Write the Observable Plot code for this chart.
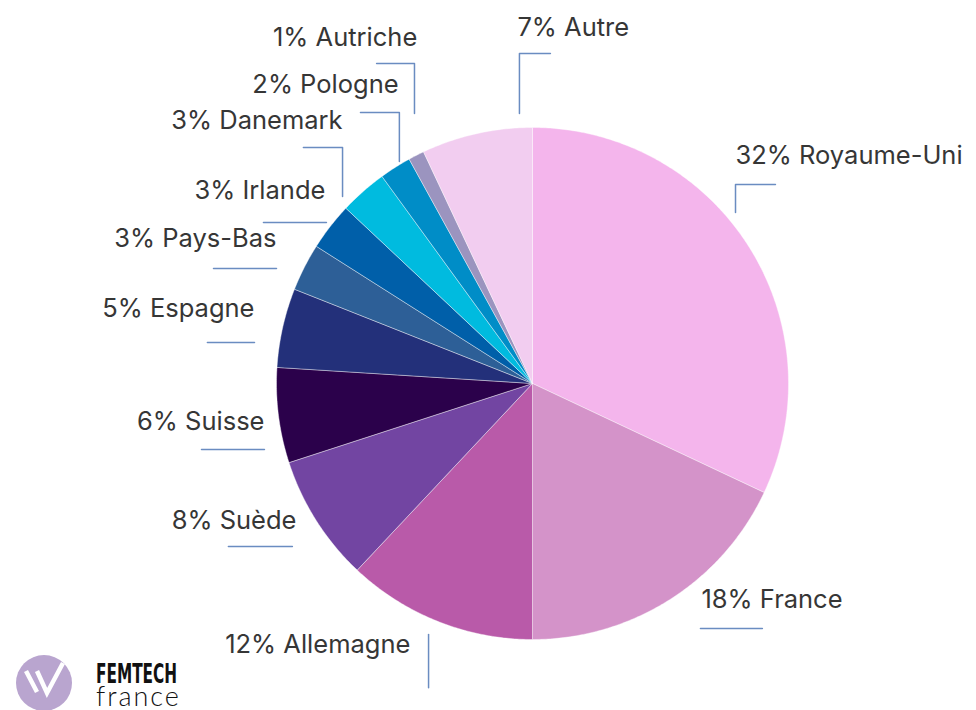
<!DOCTYPE html>
<html>
<head>
<meta charset="utf-8">
<script src="https://cdn.jsdelivr.net/npm/d3@7"></script>
<script src="https://cdn.jsdelivr.net/npm/@observablehq/plot@0.6"></script>
<style>
  html, body { margin: 0; padding: 0; background: #fff; }
  #wrap { position: relative; width: 976px; height: 710px; overflow: hidden; }
  #logo { position: absolute; left: 0; top: 640px; width: 90px; height: 70px; }
  .brand { position: absolute; left: 96px; white-space: nowrap; color: #111; overflow: visible; }
  #femtech { top: 662.5px; height: 22px; line-height: 22px; font-family: 'Liberation Sans Narrow', 'DejaVu Sans Condensed', sans-serif; font-weight: bold; font-size: 27px; transform: scaleX(0.63); transform-origin: 0 0; }
  #france { top: 685.5px; height: 20px; line-height: 20px; font-family: Lato, sans-serif; font-weight: 300; font-size: 27px; letter-spacing: 2px; }
</style>
</head>
<body>
<div id="wrap">
  <div id="chart"></div>
  <svg id="logo" width="90" height="70" viewBox="0 640 90 70">
    <circle cx="44" cy="683" r="28" fill="#b9a5cf"></circle>
    <path d="M26,671 L37,692 M37,671 L47,693 L63,663" stroke="#fff" stroke-width="4.5" fill="none" stroke-linecap="butt" stroke-linejoin="miter"></path>
  </svg>
  <div class="brand" id="femtech">FEMTECH</div>
  <div class="brand" id="france">france</div>
</div>
<script>
// ---- Data ----
const countries = ["Royaume-Uni", "France", "Allemagne", "Suède", "Suisse", "Espagne",
                   "Pays-Bas", "Irlande", "Danemark", "Pologne", "Autriche", "Autre"];
const shares = [32, 18, 12, 8, 6, 5, 3, 3, 3, 2, 1, 7];
const colors = ["#f4b5ec", "#d493c9", "#b95aa9", "#7245a2", "#2b014b", "#23307a",
                "#2d5f97", "#005fa9", "#00bbdf", "#008dc7", "#9b94bf", "#f2cdf0"];

// ---- Label layout (in pie-radius units, relative to the pie centre) ----
const labelAnchor = ["start", "start", "end", "end", "end", "end", "end", "end", "end", "end", "end", "start"];
const labelPos = [
  [0.793, 0.859], [0.660, -0.875], [-0.477, -1.051], [-0.922, -0.570],
  [-1.047, -0.180], [-1.086, 0.258], [-1.0, 0.535], [-0.809, 0.719],
  [-0.742, 0.996], [-0.523, 1.133], [-0.450, 1.320], [-0.059, 1.359]
];
const leaderPaths = [
  [[0.949, 0.777], [0.793, 0.777], [0.793, 0.668]],
  [[0.656, -0.957], [0.898, -0.957]],
  [[-0.406, -0.980], [-0.406, -1.188]],
  [[-1.188, -0.637], [-0.938, -0.637]],
  [[-1.293, -0.258], [-1.047, -0.258]],
  [[-1.270, 0.160], [-1.086, 0.160]],
  [[-1.246, 0.449], [-1.0, 0.449]],
  [[-1.051, 0.629], [-0.805, 0.629]],
  [[-0.895, 0.922], [-0.742, 0.922], [-0.742, 0.730]],
  [[-0.672, 1.059], [-0.520, 1.059], [-0.520, 0.867]],
  [[-0.609, 1.250], [-0.461, 1.250], [-0.461, 1.055]],
  [[0.070, 1.289], [-0.051, 1.289], [-0.051, 1.055]]
];

// ---- Build pie geometry from the shares ----
const total = d3.sum(shares);
const slices = [];
let acc = 0;
countries.forEach((name, i) => {
  const a0 = acc / total * 2 * Math.PI;
  acc += shares[i];
  const a1 = acc / total * 2 * Math.PI;
  const n = Math.max(2, Math.ceil((a1 - a0) / (Math.PI / 360)));
  slices.push({name, x: 0, y: 0});
  for (let k = 0; k <= n; k++) {
    const a = a0 + (a1 - a0) * k / n;
    slices.push({name, x: Math.sin(a), y: Math.cos(a)});
  }
  slices.push({name, x: 0, y: 0});
});

const labels = countries.map((name, i) => ({
  name,
  text: `${shares[i]}% ${name}`,
  anchor: labelAnchor[i],
  x: labelPos[i][0],
  y: labelPos[i][1]
}));
const leaders = leaderPaths.flatMap((pts, i) => pts.map(([x, y]) => ({name: countries[i], x, y})));

const W = 976, H = 710, R = 256, CX = 532, CY = 383;

const chart = Plot.plot({
  width: W,
  height: H,
  margin: 0,
  style: {fontFamily: "Inter, 'Noto Sans', sans-serif", background: "#fff"},
  x: {domain: [-CX / R, (W - CX) / R], axis: null},
  y: {domain: [-(H - CY) / R, CY / R], axis: null},
  color: {domain: countries, range: colors},
  marks: [
    Plot.line(slices, {x: "x", y: "y", z: "name", fill: "name", stroke: "#ffffff", strokeWidth: 0.4, curve: "linear"}),
    Plot.line(leaders, {x: "x", y: "y", z: "name", stroke: "#6a8cc1", strokeWidth: 1.5}),
    Plot.text(labels.filter(d => d.anchor === "start"), {x: "x", y: "y", text: "text", textAnchor: "start", lineAnchor: "bottom", fontSize: 25.5, fill: "#363636"}),
    Plot.text(labels.filter(d => d.anchor === "end"), {x: "x", y: "y", text: "text", textAnchor: "end", lineAnchor: "bottom", fontSize: 25.5, fill: "#363636"})
  ]
});
document.getElementById("chart").appendChild(chart);
</script>
</body>
</html>
